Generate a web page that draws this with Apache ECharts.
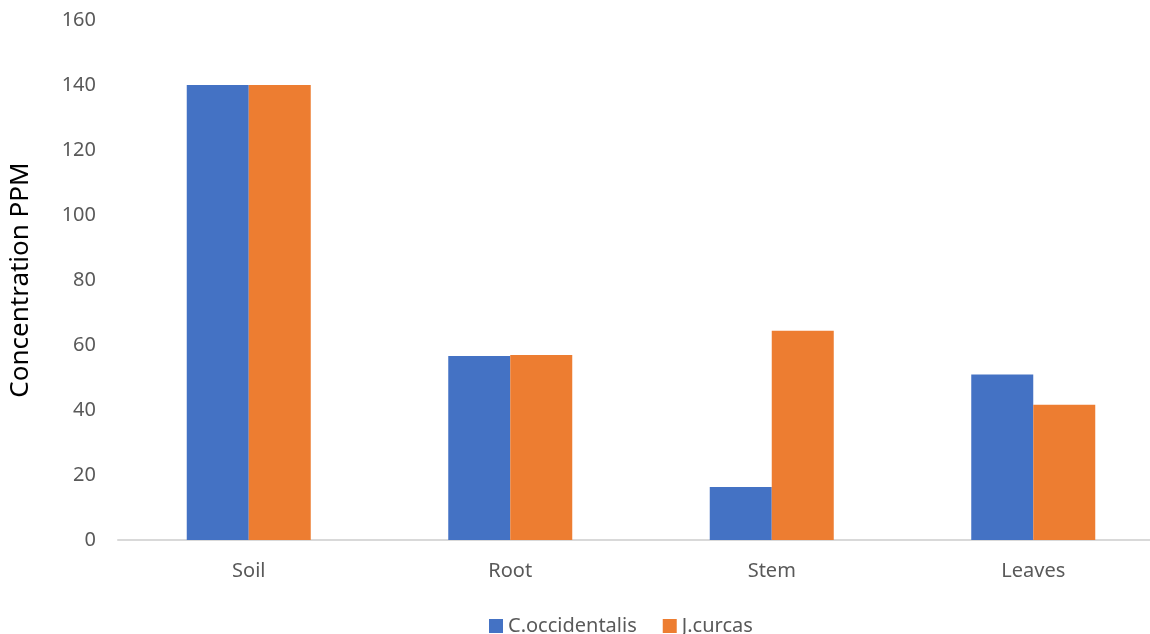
<!DOCTYPE html>
<html>
<head>
<meta charset="utf-8">
<script src="https://cdn.jsdelivr.net/npm/echarts@6/dist/echarts.min.js"></script>
<style>
  html, body { margin: 0; padding: 0; background: #fff; overflow: hidden; }
  /* chart is a bit wider than the window: the plot runs past the right edge */
  #chart { width: 1164px; height: 634px; }
</style>
</head>
<body>
<div id="chart"></div>
<script>
  var categories = ['Soil', 'Root', 'Stem', 'Leaves'];
  var occidentalis = [140, 56.6, 16.3, 50.9];
  var curcas = [140, 56.9, 64.4, 41.6];
  var yTicks = { min: 0, max: 160, interval: 20 };

  var chart = echarts.init(document.getElementById('chart'));
  var font = 'Noto Sans';
  var option = {
    animation: false,
    color: ['#4472C4', '#ED7D31'],
    textStyle: { fontFamily: font },
    grid: { left: 117, right: 0, top: 20, bottom: 94 },
    legend: {
      top: 611,
      left: 484,
      itemWidth: 14,
      itemHeight: 14,
      itemGap: 26,
      icon: 'rect',
      textStyle: { fontSize: 20, color: '#595959', fontFamily: font },
      data: ['C.occidentalis', 'J.curcas']
    },
    xAxis: {
      type: 'category',
      data: categories,
      axisLine: { lineStyle: { color: '#d9d9d9', width: 2 } },
      axisTick: { show: false },
      axisLabel: { fontSize: 20, color: '#595959', margin: 21 }
    },
    yAxis: {
      type: 'value',
      min: yTicks.min,
      max: yTicks.max,
      interval: yTicks.interval,
      name: 'Concentration PPM',
      nameLocation: 'middle',
      nameGap: 84,
      nameTextStyle: { fontSize: 26, color: '#000' },
      splitLine: { show: false },
      axisLine: { show: false },
      axisTick: { show: false },
      axisLabel: { fontSize: 20, color: '#595959', margin: 22 }
    },
    series: [
      { name: 'C.occidentalis', type: 'bar', data: occidentalis, barWidth: 62, barGap: '0%' },
      { name: 'J.curcas', type: 'bar', data: curcas, barWidth: 62, barGap: '0%' }
    ]
  };
  chart.setOption(option);
</script>
</body>
</html>
